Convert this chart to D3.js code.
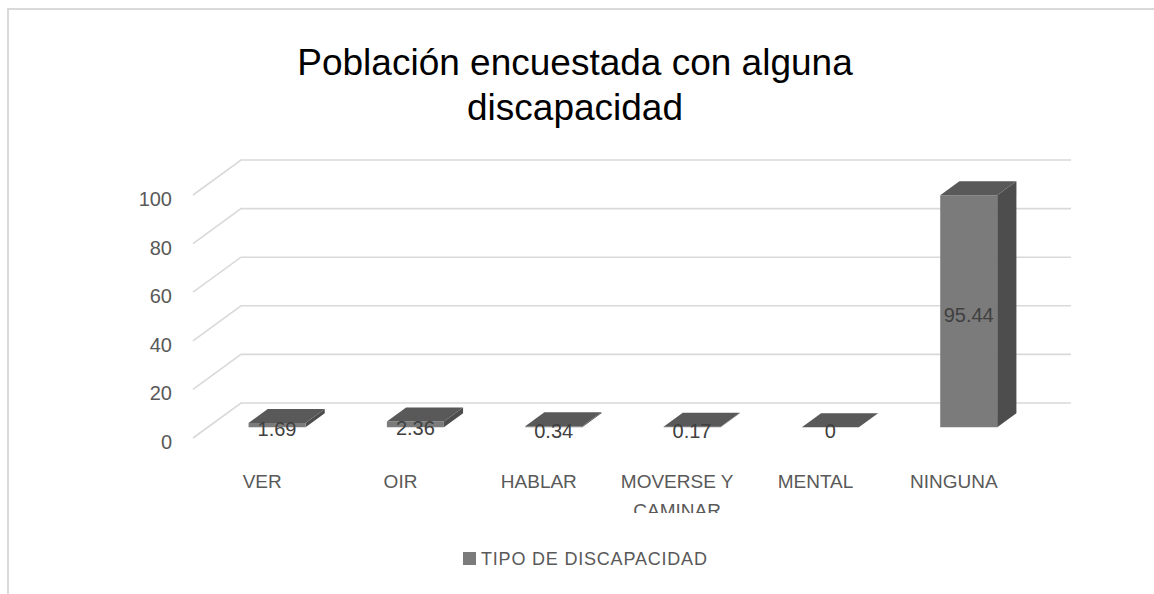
<!DOCTYPE html>
<html>
<head>
<meta charset="utf-8">
<script src="https://cdn.jsdelivr.net/npm/d3@7"></script>
<style>
  body { margin: 0; background: #fff; }
  svg { display: block; font-family: "Liberation Sans", Arial, sans-serif; }
</style>
</head>
<body>
<svg id="chart" width="1154" height="594"></svg>
<script>
// data
const categories = ["VER", "OIR", "HABLAR", "MOVERSE Y CAMINAR", "MENTAL", "NINGUNA"];
const categoryLines = [["VER"], ["OIR"], ["HABLAR"], ["MOVERSE Y", "CAMINAR"], ["MENTAL"], ["NINGUNA"]];
const values = [1.69, 2.36, 0.34, 0.17, 0, 95.44];
const valueLabels = ["1.69", "2.36", "0.34", "0.17", "0", "95.44"];
const yTicks = [0, 20, 40, 60, 80, 100];
const seriesName = "TIPO DE DISCAPACIDAD";
const titleLines = ["Población encuestada con alguna", "discapacidad"];

const svg = d3.select("#chart");

// 3d projection: front plane origin, depth offset
const ox = 193, oy = 438, DX = 48, DY = -35;
const plotW = 830;
const d0 = 0.31, d1 = 0.71;   // bar depth within floor

function proj(px, h, d) {
    return [ox + px + d * DX, oy - h + d * DY];
}

let xScale = d3.scaleBand()
    .domain(categories)
    .range([0, plotW])
    .paddingInner(0.588)
    .paddingOuter(0.294);

let xLabel = d3.scaleBand()
    .domain(categories)
    .range([0, plotW]);

let yScale = d3.scaleLinear()
    .domain([0, 100])
    .range([0, 243]);

// chart area border (top + left only visible)
svg.append("path")
    .attr("d", "M8,600 L8,9 L1160,9")
    .attr("fill", "none")
    .attr("stroke", "#d9d9d9")
    .attr("stroke-width", 2);

// title
svg.append("text")
    .attr("x", 575)
    .attr("y", 75)
    .attr("text-anchor", "middle")
    .style("font-size", "37px")
    .style("fill", "#000")
    .selectAll("tspan")
    .data(titleLines)
    .join("tspan")
    .attr("x", 575)
    .attr("dy", (d, i) => i == 0 ? 0 : 45)
    .text(d => d);

// gridlines: left wall diagonal + back wall
let grid = svg.append("g");
yTicks.forEach(t => {
    let a = proj(0, yScale(t), 0);
    let b = proj(0, yScale(t), 1);
    let c = proj(plotW, yScale(t), 1);
    grid.append("path")
        .attr("d", `M${a[0]},${a[1]} L${b[0]},${b[1]} L${c[0]},${c[1]}`)
        .attr("fill", "none")
        .attr("stroke", "#d9d9d9")
        .attr("stroke-width", 1.6);
});

// y axis labels
let yAxisScale = d3.scaleLinear().domain([0, 100]).range([oy + 4, oy + 4 - 243]);
let yAxisG = svg.append("g")
    .attr("transform", `translate(172, 0)`)
    .call(d3.axisLeft(yAxisScale).tickValues(yTicks).tickSize(0).tickPadding(0));
yAxisG.select(".domain").remove();
yAxisG.selectAll("text")
    .attr("font-family", "Liberation Sans, Arial, sans-serif")
    .attr("font-size", 20)
    .attr("fill", "#595959");

// bars
let bars = svg.append("g");
categories.forEach((cat, i) => {
    let x0 = xScale(cat), x1 = x0 + xScale.bandwidth();
    let h = yScale(values[i]);
    let fbl = proj(x0, 0, d0), fbr = proj(x1, 0, d0);
    let ftl = proj(x0, h, d0), ftr = proj(x1, h, d0);
    let btl = proj(x0, h, d1), btr = proj(x1, h, d1), bbr = proj(x1, 0, d1);
    let pts = p => p.map(q => q.join(",")).join(" ");
    // side
    bars.append("polygon")
        .attr("points", pts([fbr, ftr, btr, bbr]))
        .attr("fill", "#4d4d4d");
    // front
    bars.append("polygon")
        .attr("points", pts([fbl, ftl, ftr, fbr]))
        .attr("fill", "#7b7b7b");
    // top
    bars.append("polygon")
        .attr("points", pts([ftl, btl, btr, ftr]))
        .attr("fill", "#595959");
});

// value labels
categories.forEach((cat, i) => {
    let cx = xScale(cat) + xScale.bandwidth() / 2;
    let h = yScale(values[i]);
    let p = proj(cx, h / 2, d0);
    svg.append("text")
        .attr("x", p[0])
        .attr("y", p[1] + 4)
        .attr("dy", "0.35em")
        .attr("text-anchor", "middle")
        .style("font-size", "20px")
        .style("fill", "#404040")
        .text(valueLabels[i]);
});

// category labels
svg.append("clipPath")
    .attr("id", "catclip")
    .append("rect")
    .attr("x", 0).attr("y", 0)
    .attr("width", 1154).attr("height", 513);

let catG = svg.append("g").attr("clip-path", "url(#catclip)");
categories.forEach((cat, i) => {
    let cx = ox + xLabel(cat) + xLabel.bandwidth() / 2;
    catG.append("text")
        .attr("text-anchor", "middle")
        .style("font-size", "19px")
        .style("fill", "#595959")
        .selectAll("tspan")
        .data(categoryLines[i])
        .join("tspan")
        .attr("x", cx)
        .attr("y", (d, j) => 488 + j * 29)
        .text(d => d);
});

// legend
svg.append("rect")
    .attr("x", 463)
    .attr("y", 552)
    .attr("width", 13)
    .attr("height", 13)
    .attr("fill", "#7b7b7b");
svg.append("text")
    .attr("x", 481)
    .attr("y", 565)
    .style("font-size", "18px")
    .style("letter-spacing", "0.8px")
    .style("fill", "#595959")
    .text(seriesName);
</script>
</body>
</html>
